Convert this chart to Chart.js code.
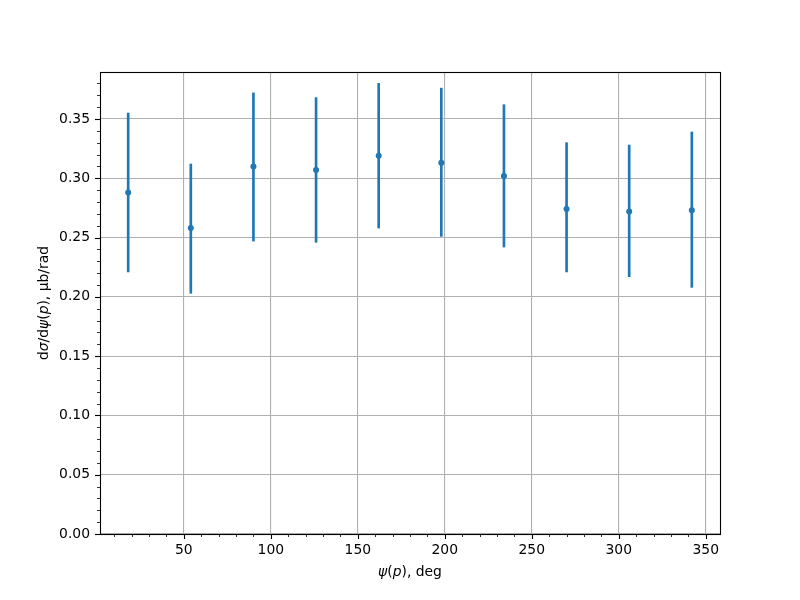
<!DOCTYPE html>
<html>
<head>
<meta charset="utf-8">
<script src="https://cdn.jsdelivr.net/npm/chart.js@4"></script>
<style>
  html, body { margin: 0; padding: 0; background: #fff; }
  #wrap { width: 800px; height: 600px; }
</style>
</head>
<body>
<div id="wrap"><canvas id="chart" width="800" height="600"></canvas></div>
<script>
// psi(p) bin centres, deg
const angles = [18, 54, 90, 126, 162, 198, 234, 270, 306, 342];
// dsigma/dpsi, ub/rad
const xsec = [0.288, 0.258, 0.310, 0.307, 0.319, 0.313, 0.302, 0.274, 0.272, 0.273];
const errLow = [0.221, 0.203, 0.247, 0.246, 0.258, 0.251, 0.242, 0.221, 0.217, 0.208];
const errHigh = [0.355, 0.312, 0.372, 0.368, 0.380, 0.376, 0.362, 0.330, 0.328, 0.339];

const xMajor = [50, 100, 150, 200, 250, 300, 350];
const yMajor = [0, 5, 10, 15, 20, 25, 30, 35]; // in hundredths

const blue = "#1f77b4";
const FONT = "DejaVu Sans";
const FS = 13.9;

// matplotlib-ish tick marks + frame
const axesDecor = {
    id: "axesDecor",
    afterDraw(chart) {
        const { ctx, chartArea: a, scales } = chart;
        ctx.save();
        ctx.strokeStyle = "#000";
        scales.x.ticks.forEach((t) => {
            const major = t.value % 50 === 0;
            const px = Math.round(scales.x.getPixelForValue(t.value)) + 0.5;
            ctx.lineWidth = major ? 1.1 : 0.8;
            ctx.beginPath();
            ctx.moveTo(px, a.bottom);
            ctx.lineTo(px, a.bottom + (major ? 5 : 3));
            ctx.stroke();
        });
        scales.y.ticks.forEach((t) => {
            const major = Math.round(t.value * 100) % 5 === 0;
            const py = Math.round(scales.y.getPixelForValue(t.value)) + 0.5;
            ctx.lineWidth = major ? 1.1 : 0.8;
            ctx.beginPath();
            ctx.moveTo(a.left, py);
            ctx.lineTo(a.left - (major ? 5 : 3), py);
            ctx.stroke();
        });
        ctx.lineWidth = 1.1;
        ctx.strokeRect(a.left + 0.5, a.top + 0.5, a.right - a.left, a.bottom - a.top);
        ctx.restore();
    },
};

// axis titles with italic math parts
function drawParts(ctx, parts, cx, cy) {
    const fontOf = (it) => (it ? "italic " : "") + FS + "px '" + FONT + "'";
    let w = 0;
    parts.forEach(([s, it]) => { ctx.font = fontOf(it); w += ctx.measureText(s).width; });
    let x = cx - w / 2;
    parts.forEach(([s, it]) => {
        ctx.font = fontOf(it);
        ctx.fillText(s, x, cy);
        x += ctx.measureText(s).width;
    });
}

const xTitle = [["ψ", true], ["(", false], ["p", true], ["), deg", false]];
const yTitle = [["d", false], ["σ", true], ["/d", false], ["ψ", true], ["(", false], ["p", true], ["), μb/rad", false]];

const axisTitles = {
    id: "axisTitles",
    afterDraw(chart) {
        const { ctx, chartArea: a } = chart;
        ctx.save();
        ctx.fillStyle = "#000";
        ctx.textBaseline = "middle";
        ctx.textAlign = "left";
        drawParts(ctx, xTitle, (a.left + a.right) / 2, 572);
        ctx.translate(44, (a.top + a.bottom) / 2);
        ctx.rotate(-Math.PI / 2);
        drawParts(ctx, yTitle, 0, 0);
        ctx.restore();
    },
};

const ctx = document.getElementById("chart").getContext("2d");

new Chart(ctx, {
    data: {
        datasets: [
            {
                type: "scatter",
                data: angles.map((a, i) => ({ x: a, y: xsec[i] })),
                backgroundColor: blue,
                borderColor: blue,
                pointRadius: 3,
                pointBorderWidth: 0,
                order: 0,
            },
            {
                type: "bar",
                data: angles.map((a, i) => ({ x: a, y: [errLow[i], errHigh[i]] })),
                backgroundColor: blue,
                barThickness: 2,
                order: 1,
            },
        ],
    },
    plugins: [axesDecor, axisTitles],
    options: {
        responsive: false,
        animation: false,
        layout: { padding: { left: 0, right: 80, top: 72, bottom: 0 } },
        plugins: { legend: { display: false }, tooltip: { enabled: false } },
        scales: {
            x: {
                type: "linear",
                offset: false,
                min: 1.8,
                max: 358.2,
                afterFit: (s) => { s.height = 66; },
                afterBuildTicks: (s) => {
                    s.ticks = [];
                    for (let v = 10; v <= 350; v += 10) s.ticks.push({ value: v });
                },
                grid: {
                    offset: false,
                    drawTicks: false,
                    color: (c) => (c.tick && c.tick.value % 50 === 0 ? "#b0b0b0" : "rgba(0,0,0,0)"),
                    lineWidth: 1.1,
                },
                border: { display: false },
                ticks: {
                    autoSkip: false,
                    maxRotation: 0,
                    padding: 8,
                    color: "#000",
                    font: { family: FONT, size: FS },
                    callback: (v) => (xMajor.includes(v) ? String(v) : ""),
                },
            },
            y: {
                type: "linear",
                min: 0,
                max: 0.3896,
                afterFit: (s) => { s.width = 100; },
                afterBuildTicks: (s) => {
                    s.ticks = [];
                    for (let k = 0; k <= 38; k++) s.ticks.push({ value: k / 100 });
                },
                grid: {
                    drawTicks: false,
                    color: (c) => (c.tick && Math.round(c.tick.value * 100) % 5 === 0 ? "#b0b0b0" : "rgba(0,0,0,0)"),
                    lineWidth: 1.1,
                },
                border: { display: false },
                ticks: {
                    autoSkip: false,
                    padding: 10,
                    color: "#000",
                    font: { family: FONT, size: FS },
                    callback: (v) => {
                        const k = Math.round(v * 100);
                        return yMajor.includes(k) ? v.toFixed(2) : "";
                    },
                },
            },
        },
    },
});
</script>
</body>
</html>
